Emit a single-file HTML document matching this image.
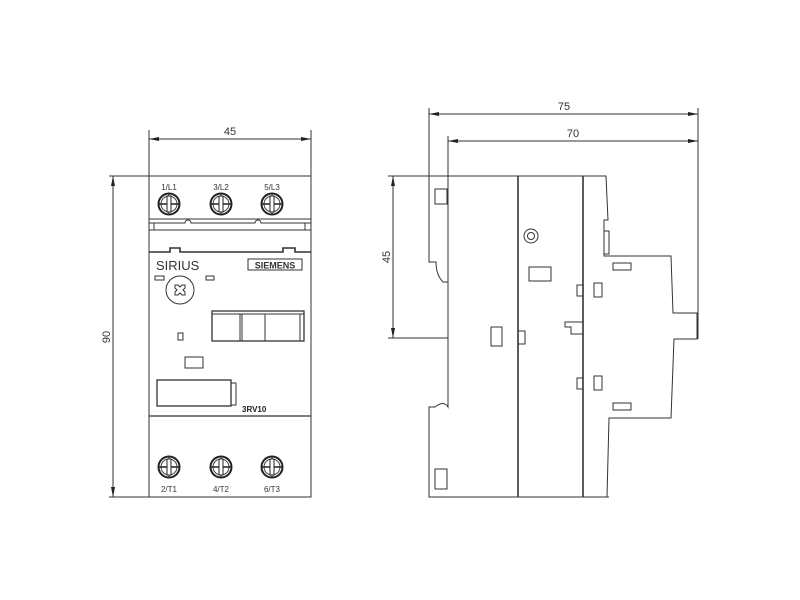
<!DOCTYPE html>
<html><head><meta charset="utf-8"><style>html,body{margin:0;padding:0;background:#fff}svg{display:block}</style></head>
<body>
<svg width="800" height="600" viewBox="0 0 800 600" xmlns="http://www.w3.org/2000/svg" font-family="Liberation Sans, sans-serif">
<defs>
<marker id="a" viewBox="0 0 10 4" refX="10" refY="2" markerWidth="10" markerHeight="4" orient="auto-start-reverse" markerUnits="userSpaceOnUse"><path d="M0,0 L10,2 L0,4z" fill="#222"/></marker>
<g id="t"><circle r="10.5" fill="none" stroke="#222" stroke-width="2"/><circle r="8" fill="none" stroke="#444" stroke-width="1"/><line x1="-10" y1="0" x2="10" y2="0" stroke="#222" stroke-width="1.5"/><line x1="0" y1="-10" x2="0" y2="10" stroke="#222" stroke-width="1"/><rect x="-2" y="-8" width="4" height="16" fill="#fff" stroke="#222" stroke-width="1"/></g>
</defs>
<g fill="none" stroke="#333" stroke-width="1">
<!-- front view dims -->
<line x1="149" y1="130" x2="149" y2="176"/><line x1="311" y1="130" x2="311" y2="176"/>
<line x1="149" y1="139" x2="311" y2="139" marker-start="url(#a)" marker-end="url(#a)"/>
<line x1="109" y1="176" x2="149" y2="176"/><line x1="109" y1="497" x2="149" y2="497"/>
<line x1="113" y1="176" x2="113" y2="497" marker-start="url(#a)" marker-end="url(#a)"/>
<!-- front body -->
<rect x="149" y="176" width="162" height="321"/>
<line x1="149" y1="219" x2="311" y2="219"/>
<path d="M149,223 H185 A3,3 0 0 1 191,223 H255 A3,3 0 0 1 261,223 H311"/>
<line x1="154" y1="223" x2="154" y2="230"/><line x1="305" y1="223" x2="305" y2="230"/>
<line x1="149" y1="230" x2="311" y2="230"/>
<path d="M149,252 H170 V248 H180 V252 H283 V248 H295 V252 H311" stroke-width="1.6"/>
<rect x="248" y="259" width="54" height="11"/>
<rect x="155" y="276" width="9" height="4"/><rect x="206" y="276" width="8" height="4"/>
<circle cx="180" cy="290" r="14"/>
<path d="M175,285 l3,0 l2,2 l2,-2 l3,0 l0,3 l-2,2 l2,2 l0,3 l-3,0 l-2,-2 l-2,2 l-3,0 l0,-3 l2,-2 l-2,-2z"/>
<rect x="212" y="311" width="92" height="30" stroke-width="1.3"/>
<line x1="212" y1="314" x2="304" y2="314"/>
<line x1="240" y1="314" x2="240" y2="341"/><line x1="242" y1="314" x2="242" y2="341"/>
<line x1="265" y1="314" x2="265" y2="341"/><line x1="300" y1="314" x2="300" y2="341"/>
<rect x="178" y="333" width="5" height="7"/>
<rect x="185" y="357" width="18" height="11"/>
<rect x="157" y="380" width="74" height="26" stroke-width="1.3"/>
<rect x="231" y="383" width="5" height="22"/>
<line x1="149" y1="416" x2="311" y2="416" stroke-width="1.3"/>
<!-- side dims -->
<line x1="429" y1="108" x2="429" y2="176"/><line x1="448" y1="136" x2="448" y2="176"/>
<line x1="698" y1="108" x2="698" y2="339"/>
<line x1="429" y1="114" x2="698" y2="114" marker-start="url(#a)" marker-end="url(#a)"/>
<line x1="448" y1="141" x2="698" y2="141" marker-start="url(#a)" marker-end="url(#a)"/>
<line x1="388" y1="176" x2="429" y2="176"/><line x1="388" y1="338" x2="448" y2="338"/>
<line x1="393" y1="176" x2="393" y2="338" marker-start="url(#a)" marker-end="url(#a)"/>
<!-- side body -->
<path d="M429,176 H448 M429,176 V262 H436 Q436,275 443,282 H448"/>
<line x1="448" y1="176" x2="448" y2="398"/>
<path d="M448,398 V407 Q444,400 435,407 H429 V497 H609"/>
<line x1="448" y1="176" x2="518" y2="176"/>
<line x1="518" y1="176" x2="518" y2="497" stroke-width="1.6"/>
<line x1="583" y1="176" x2="583" y2="497" stroke-width="1.6"/>
<path d="M518,176 H606 L608,220 H604 V256 H671 L673,313 H697 V339 H674 L671,418 H609 L607,497"/>
<rect x="604" y="231" width="5" height="23"/>
<rect x="435" y="189" width="12" height="15"/>
<rect x="435" y="469" width="12" height="20"/>
<rect x="491" y="327" width="11" height="19"/>
<rect x="518" y="331" width="7" height="13"/>
<circle cx="531" cy="236" r="7"/><circle cx="531" cy="236" r="3.5"/>
<rect x="529" y="267" width="22" height="14"/>
<rect x="577" y="285" width="6" height="11"/><rect x="594" y="283" width="8" height="14"/>
<path d="M583,322 H565 V327 H571 V334 H583"/>
<rect x="577" y="378" width="6" height="11"/><rect x="594" y="376" width="8" height="14"/>
<rect x="613" y="263" width="18" height="7"/><rect x="613" y="403" width="18" height="7"/>
</g>
<g fill="#222">
<use href="#t" x="169" y="204"/><use href="#t" x="221" y="204"/><use href="#t" x="272" y="204"/>
<use href="#t" x="169" y="467"/><use href="#t" x="221" y="467"/><use href="#t" x="272" y="467"/>
<g font-size="8" fill="#333" text-anchor="middle">
<text x="169" y="190">1/L1</text><text x="221" y="190">3/L2</text><text x="272" y="190">5/L3</text>
<text x="169" y="492">2/T1</text><text x="221" y="492">4/T2</text><text x="272" y="492">6/T3</text>
</g>
<text x="156" y="270" font-size="13" fill="#333">SIRIUS</text>
<text x="275" y="268.5" font-size="9" fill="#333" text-anchor="middle" font-weight="bold">SIEMENS</text>
<text x="242" y="412" font-size="8" fill="#222" font-weight="bold">3RV10</text>
<g font-size="11" fill="#333" text-anchor="middle">
<text x="230" y="135">45</text>
<text x="564" y="110">75</text>
<text x="573" y="137">70</text>
<text transform="translate(110,337) rotate(-90)">90</text>
<text transform="translate(390,257) rotate(-90)">45</text>
</g>
</g>
</svg>
</body></html>
